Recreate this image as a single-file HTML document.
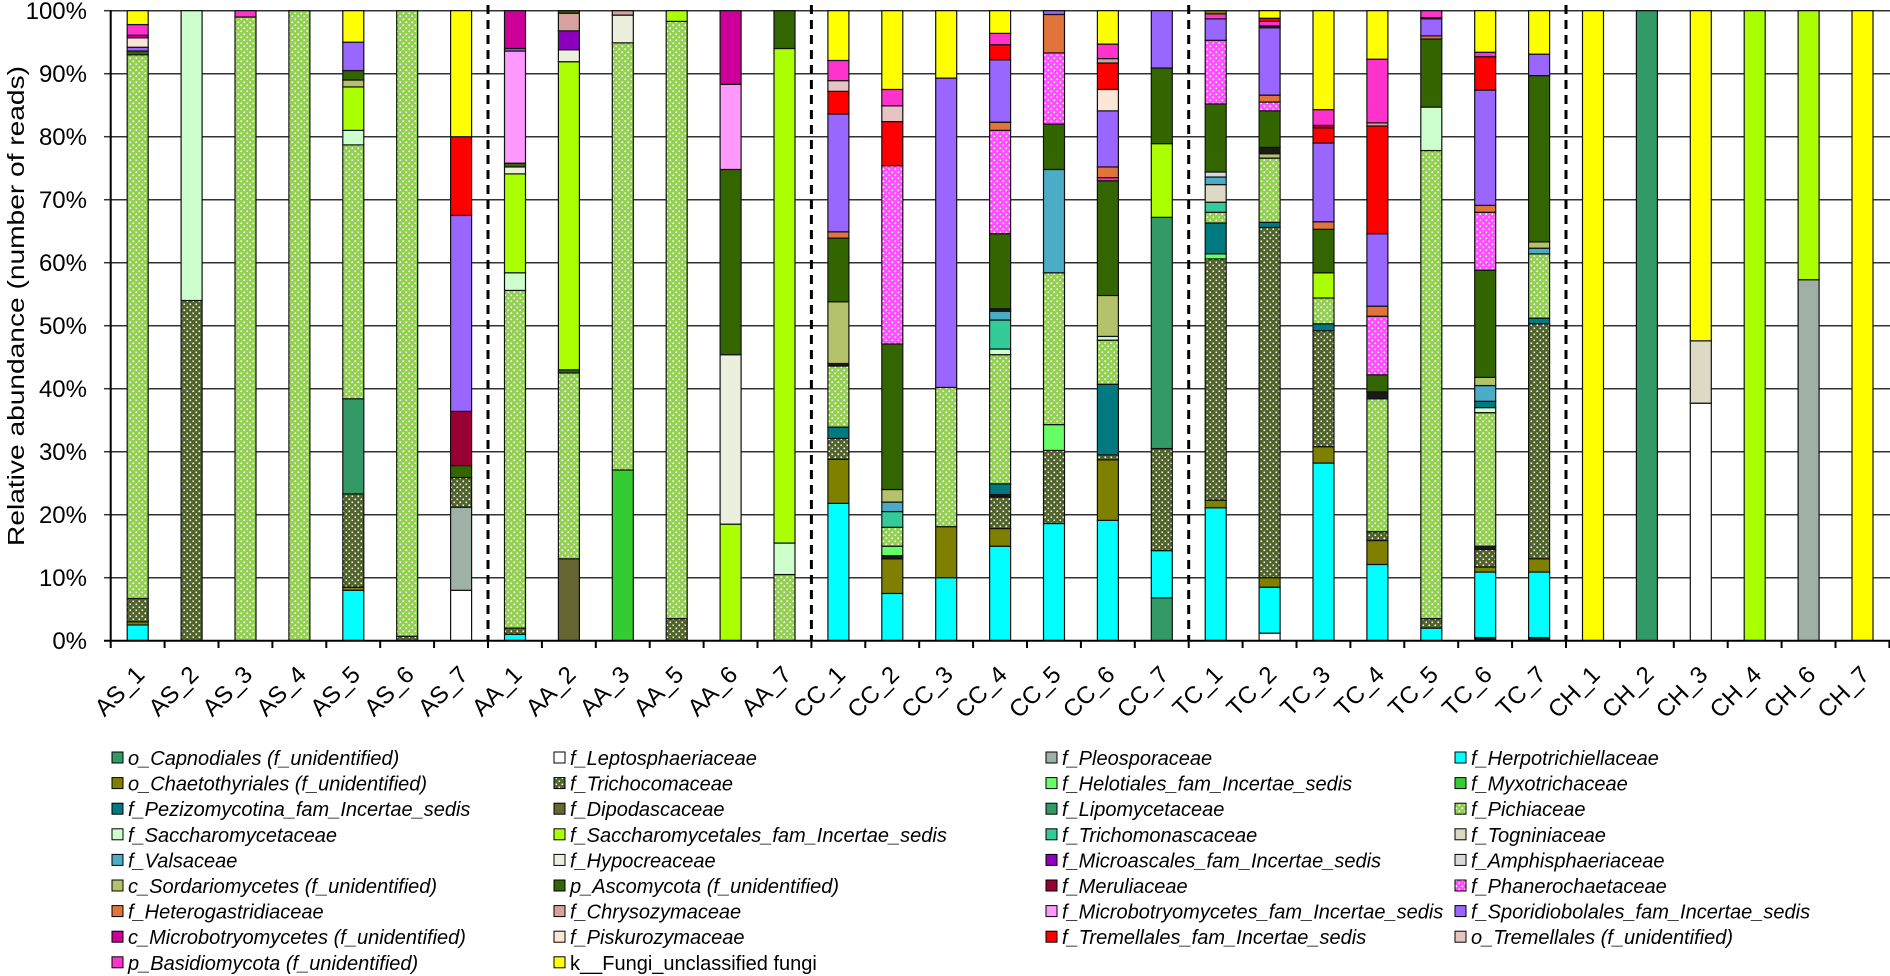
<!DOCTYPE html>
<html><head><meta charset="utf-8"><style>
html,body{margin:0;padding:0;background:#fff;}
svg{display:block;font-family:"Liberation Sans",Arial,sans-serif;}
</style></head><body>
<svg id="s" width="1890" height="976" viewBox="0 0 1890 976" xmlns="http://www.w3.org/2000/svg">
<defs>
<pattern id="p_pic" width="6" height="6" patternUnits="userSpaceOnUse"><rect width="6" height="6" fill="#92D050"/><rect x="0.5" y="0.5" width="1.6" height="1.6" fill="#fff"/><rect x="3.5" y="3.5" width="1.6" height="1.6" fill="#fff"/></pattern>
<pattern id="p_tri" width="6" height="6" patternUnits="userSpaceOnUse"><rect width="6" height="6" fill="#4F6228"/><rect x="0.5" y="0.5" width="1.6" height="1.6" fill="#fff"/><rect x="3.5" y="3.5" width="1.6" height="1.6" fill="#fff"/></pattern>
<pattern id="p_pha" width="6" height="6" patternUnits="userSpaceOnUse"><rect width="6" height="6" fill="#FF4DFF"/><rect x="0.5" y="0.5" width="1.6" height="1.6" fill="#fff"/><rect x="3.5" y="3.5" width="1.6" height="1.6" fill="#fff"/></pattern>
</defs>
<g id="grid" stroke="#333" stroke-width="1.5">
<line x1="110" y1="10.7" x2="1890" y2="10.7"/><line x1="110" y1="73.7" x2="1890" y2="73.7"/><line x1="110" y1="136.7" x2="1890" y2="136.7"/><line x1="110" y1="199.7" x2="1890" y2="199.7"/><line x1="110" y1="262.7" x2="1890" y2="262.7"/><line x1="110" y1="325.7" x2="1890" y2="325.7"/><line x1="110" y1="388.7" x2="1890" y2="388.7"/><line x1="110" y1="451.7" x2="1890" y2="451.7"/><line x1="110" y1="514.7" x2="1890" y2="514.7"/><line x1="110" y1="577.7" x2="1890" y2="577.7"/>
<line x1="104" y1="10.7" x2="110" y2="10.7"/><line x1="104" y1="73.7" x2="110" y2="73.7"/><line x1="104" y1="136.7" x2="110" y2="136.7"/><line x1="104" y1="199.7" x2="110" y2="199.7"/><line x1="104" y1="262.7" x2="110" y2="262.7"/><line x1="104" y1="325.7" x2="110" y2="325.7"/><line x1="104" y1="388.7" x2="110" y2="388.7"/><line x1="104" y1="451.7" x2="110" y2="451.7"/><line x1="104" y1="514.7" x2="110" y2="514.7"/><line x1="104" y1="577.7" x2="110" y2="577.7"/><line x1="104" y1="640.7" x2="110" y2="640.7"/>
</g>
<g id="bars"></g>
<g id="ticks" stroke="#000" stroke-width="2"></g>
<line x1="110.7" y1="10" x2="110.7" y2="641.5" stroke="#000" stroke-width="2"/>
<line x1="104" y1="640.7" x2="1890" y2="640.7" stroke="#000" stroke-width="2"/>
<g stroke="#000" stroke-width="3" stroke-dasharray="9,6">
<line x1="488" y1="5" x2="488" y2="640"/><line x1="811.4" y1="5" x2="811.4" y2="640"/><line x1="1188.7" y1="5" x2="1188.7" y2="640"/><line x1="1566" y1="5" x2="1566" y2="640"/>
</g>
<g font-size="24" text-anchor="end" fill="#000">
<text x="87" y="19">100%</text><text x="87" y="82">90%</text><text x="87" y="145">80%</text><text x="87" y="208">70%</text><text x="87" y="271">60%</text><text x="87" y="334">50%</text><text x="87" y="397">40%</text><text x="87" y="460">30%</text><text x="87" y="523">20%</text><text x="87" y="586">10%</text><text x="87" y="649">0%</text>
</g>
<text transform="translate(24,306) rotate(-90)" font-size="23" text-anchor="middle" textLength="480" lengthAdjust="spacingAndGlyphs">Relative abundance (number of reads)</text>
<g font-size="24" text-anchor="end">
<text transform="translate(146,676) rotate(-45)">AS_1</text>
<text transform="translate(199.9,676) rotate(-45)">AS_2</text>
<text transform="translate(253.8,676) rotate(-45)">AS_3</text>
<text transform="translate(307.7,676) rotate(-45)">AS_4</text>
<text transform="translate(361.6,676) rotate(-45)">AS_5</text>
<text transform="translate(415.5,676) rotate(-45)">AS_6</text>
<text transform="translate(469.4,676) rotate(-45)">AS_7</text>
<text transform="translate(523.3,676) rotate(-45)">AA_1</text>
<text transform="translate(577.2,676) rotate(-45)">AA_2</text>
<text transform="translate(631.1,676) rotate(-45)">AA_3</text>
<text transform="translate(685,676) rotate(-45)">AA_5</text>
<text transform="translate(738.9,676) rotate(-45)">AA_6</text>
<text transform="translate(792.8,676) rotate(-45)">AA_7</text>
<text transform="translate(846.7,676) rotate(-45)">CC_1</text>
<text transform="translate(900.6,676) rotate(-45)">CC_2</text>
<text transform="translate(954.5,676) rotate(-45)">CC_3</text>
<text transform="translate(1008.4,676) rotate(-45)">CC_4</text>
<text transform="translate(1062.3,676) rotate(-45)">CC_5</text>
<text transform="translate(1116.2,676) rotate(-45)">CC_6</text>
<text transform="translate(1170.1,676) rotate(-45)">CC_7</text>
<text transform="translate(1224,676) rotate(-45)">TC_1</text>
<text transform="translate(1277.9,676) rotate(-45)">TC_2</text>
<text transform="translate(1331.8,676) rotate(-45)">TC_3</text>
<text transform="translate(1385.7,676) rotate(-45)">TC_4</text>
<text transform="translate(1439.6,676) rotate(-45)">TC_5</text>
<text transform="translate(1493.5,676) rotate(-45)">TC_6</text>
<text transform="translate(1547.4,676) rotate(-45)">TC_7</text>
<text transform="translate(1601.3,676) rotate(-45)">CH_1</text>
<text transform="translate(1655.2,676) rotate(-45)">CH_2</text>
<text transform="translate(1709.1,676) rotate(-45)">CH_3</text>
<text transform="translate(1763,676) rotate(-45)">CH_4</text>
<text transform="translate(1816.9,676) rotate(-45)">CH_6</text>
<text transform="translate(1870.8,676) rotate(-45)">CH_7</text>
</g>
<g font-size="20" font-style="italic" stroke="none">
<g stroke="#000" stroke-width="1">
<rect x="112" y="752" width="11" height="11" fill="#339966"/><rect x="112" y="777.6" width="11" height="11" fill="#808000"/><rect x="112" y="803.2" width="11" height="11" fill="#007A80"/><rect x="112" y="828.8" width="11" height="11" fill="#CCFFCC"/><rect x="112" y="854.4" width="11" height="11" fill="#4BACC6"/><rect x="112" y="880" width="11" height="11" fill="#B3C26B"/><rect x="112" y="905.6" width="11" height="11" fill="#E0743A"/><rect x="112" y="931.2" width="11" height="11" fill="#CC0099"/><rect x="112" y="956.8" width="11" height="11" fill="#FF33CC"/>
<rect x="554" y="752" width="11" height="11" fill="#FFFFFF"/><rect x="554" y="777.6" width="11" height="11" fill="url(#p_tri)"/><rect x="554" y="803.2" width="11" height="11" fill="#666633"/><rect x="554" y="828.8" width="11" height="11" fill="#AAFF00"/><rect x="554" y="854.4" width="11" height="11" fill="#EBF0DE"/><rect x="554" y="880" width="11" height="11" fill="#336600"/><rect x="554" y="905.6" width="11" height="11" fill="#D9A0A0"/><rect x="554" y="931.2" width="11" height="11" fill="#FBE5D6"/><rect x="554" y="956.8" width="11" height="11" fill="#FFFF00"/>
<rect x="1046" y="752" width="11" height="11" fill="#9FB0A6"/><rect x="1046" y="777.6" width="11" height="11" fill="#66FF66"/><rect x="1046" y="803.2" width="11" height="11" fill="#339966"/><rect x="1046" y="828.8" width="11" height="11" fill="#33CC99"/><rect x="1046" y="854.4" width="11" height="11" fill="#8E00C0"/><rect x="1046" y="880" width="11" height="11" fill="#990033"/><rect x="1046" y="905.6" width="11" height="11" fill="#FF99FF"/><rect x="1046" y="931.2" width="11" height="11" fill="#FF0000"/>
<rect x="1455" y="752" width="11" height="11" fill="#00FFFF"/><rect x="1455" y="777.6" width="11" height="11" fill="#33CC33"/><rect x="1455" y="803.2" width="11" height="11" fill="url(#p_pic)"/><rect x="1455" y="828.8" width="11" height="11" fill="#DDD9C4"/><rect x="1455" y="854.4" width="11" height="11" fill="#D9D9D9"/><rect x="1455" y="880" width="11" height="11" fill="url(#p_pha)"/><rect x="1455" y="905.6" width="11" height="11" fill="#9966FF"/><rect x="1455" y="931.2" width="11" height="11" fill="#E6C4C4"/>
</g>
<text x="128" y="765">o_Capnodiales (f_unidentified)</text>
<text x="128" y="790.6">o_Chaetothyriales (f_unidentified)</text>
<text x="128" y="816.2">f_Pezizomycotina_fam_Incertae_sedis</text>
<text x="128" y="841.8">f_Saccharomycetaceae</text>
<text x="128" y="867.4">f_Valsaceae</text>
<text x="128" y="893">c_Sordariomycetes (f_unidentified)</text>
<text x="128" y="918.6">f_Heterogastridiaceae</text>
<text x="128" y="944.2">c_Microbotryomycetes (f_unidentified)</text>
<text x="128" y="969.8">p_Basidiomycota (f_unidentified)</text>
<text x="570" y="765">f_Leptosphaeriaceae</text>
<text x="570" y="790.6">f_Trichocomaceae</text>
<text x="570" y="816.2">f_Dipodascaceae</text>
<text x="570" y="841.8">f_Saccharomycetales_fam_Incertae_sedis</text>
<text x="570" y="867.4">f_Hypocreaceae</text>
<text x="570" y="893">p_Ascomycota (f_unidentified)</text>
<text x="570" y="918.6">f_Chrysozymaceae</text>
<text x="570" y="944.2">f_Piskurozymaceae</text>
<text x="570" y="969.8" font-style="normal">k__Fungi_unclassified fungi</text>
<text x="1062" y="765">f_Pleosporaceae</text>
<text x="1062" y="790.6">f_Helotiales_fam_Incertae_sedis</text>
<text x="1062" y="816.2">f_Lipomycetaceae</text>
<text x="1062" y="841.8">f_Trichomonascaceae</text>
<text x="1062" y="867.4">f_Microascales_fam_Incertae_sedis</text>
<text x="1062" y="893">f_Meruliaceae</text>
<text x="1062" y="918.6">f_Microbotryomycetes_fam_Incertae_sedis</text>
<text x="1062" y="944.2">f_Tremellales_fam_Incertae_sedis</text>
<text x="1471" y="765">f_Herpotrichiellaceae</text>
<text x="1471" y="790.6">f_Myxotrichaceae</text>
<text x="1471" y="816.2">f_Pichiaceae</text>
<text x="1471" y="841.8">f_Togniniaceae</text>
<text x="1471" y="867.4">f_Amphisphaeriaceae</text>
<text x="1471" y="893">f_Phanerochaetaceae</text>
<text x="1471" y="918.6">f_Sporidiobolales_fam_Incertae_sedis</text>
<text x="1471" y="944.2">o_Tremellales (f_unidentified)</text>
</g>
</svg>
<script>
var C={cap:"#339966",cha:"#808000",pez:"#007A80",sac:"#CCFFCC",val:"#4BACC6",sor:"#B3C26B",het:"#E0743A",cmb:"#CC0099",bas:"#FF33CC",lep:"#FFFFFF",tri:"url(#p_tri)",dip:"#666633",sin:"#AAFF00",hyp:"#EBF0DE",asc:"#336600",chr:"#D9A0A0",pis:"#FBE5D6",ple:"#9FB0A6",hel:"#66FF66",lip:"#339966",trm:"#33CC99",mic:"#8E00C0",mer:"#990033",mbf:"#FF99FF",tre:"#FF0000",her:"#00FFFF",myx:"#33CC33",pic:"url(#p_pic)",tog:"#DDD9C4",amp:"#D9D9D9",pha:"url(#p_pha)",spo:"#9966FF",otr:"#E6C4C4",fun:"#FFFF00",blk:"#1a1a1a"};
var D=[
[["her",2.5],["cha",3],["tri",6.7],["pic",93],["asc",93.6],["spo",94.2],["pis",95.7],["cmb",96.1],["bas",97.8],["fun",100]],
[["tri",54],["sac",100]],
[["pic",99],["bas",100]],
[["pic",100]],
[["her",8],["cha",8.5],["tri",23.3],["cap",38.4],["pic",78.7],["sac",81],["sin",87.9],["sor",89],["asc",90.5],["spo",95],["fun",100]],
[["tri",0.7],["pic",100]],
[["lep",8],["ple",21.2],["tri",25.9],["asc",27.8],["mer",36.4],["spo",67.5],["tre",80],["fun",100]],
[["her",1],["tri",2],["pic",55.6],["sac",58.4],["sin",74.1],["hyp",75.2],["asc",75.8],["mbf",93.6],["spo",94],["cmb",100]],
[["dip",13],["pic",42.5],["asc",43],["sin",91.9],["hyp",93.8],["mic",96.8],["chr",99.6],["asc",100]],
[["myx",27.1],["pic",94.9],["hyp",99.3],["chr",100]],
[["tri",3.5],["pic",98.3],["sin",100]],
[["sin",18.5],["hyp",45.4],["asc",74.8],["mbf",88.3],["cmb",100]],
[["pic",10.5],["sac",15.5],["sin",94],["asc",100]],
[["her",21.8],["cha",28.8],["tri",32.1],["pez",33.9],["pic",43.6],["blk",44],["sor",53.8],["asc",63.9],["het",64.9],["spo",83.6],["tre",87.2],["otr",88.9],["bas",92.1],["fun",100]],
[["her",7.5],["cha",13],["blk",13.5],["hel",15],["pic",18],["trm",20.5],["val",22],["sor",24],["asc",47.1],["pha",75.4],["tre",82.4],["otr",84.9],["bas",87.5],["fun",100]],
[["her",10],["cha",18.1],["pic",40.2],["spo",89.3],["fun",100]],
[["her",15],["cha",17.8],["tri",22.8],["blk",23.2],["pez",24.9],["pic",45.4],["sac",46.3],["trm",50.9],["val",52.3],["blk",52.7],["asc",64.6],["pha",81],["het",82.3],["spo",92.2],["tre",94.6],["bas",96.4],["fun",100]],
[["her",18.6],["tri",30.2],["hel",34.3],["pic",58.4],["val",74.8],["asc",82],["pha",93.3],["het",99.4],["spo",100]],
[["her",19.1],["cha",28.7],["tri",29.5],["pez",40.7],["pic",47.7],["sac",48.3],["sor",54.8],["asc",73],["bas",73.5],["het",75.2],["spo",84.1],["pis",87.5],["tre",91.7],["chr",92.4],["bas",94.7],["fun",100]],
[["cap",6.8],["her",14.3],["tri",30.5],["lip",67.2],["sin",78.9],["asc",90.9],["spo",100]],
[["her",21.1],["cha",22.3],["tri",60.6],["hel",61.4],["pez",66.3],["pic",68],["trm",69.6],["tog",72.4],["val",73.6],["amp",74.4],["asc",85.2],["pha",95.3],["spo",98.7],["bas",99.5],["cha",100]],
[["lep",1.2],["her",8.5],["cha",10],["tri",65.6],["pez",66.4],["pic",76.6],["sor",77.3],["blk",78.3],["asc",84.1],["pha",85.5],["het",86.6],["spo",97.3],["blk",97.6],["bas",98.3],["tre",98.8],["fun",100]],
[["her",28.2],["cha",30.8],["tri",49.2],["pez",50.3],["pic",54.4],["sin",58.4],["asc",65.3],["het",66.5],["spo",79],["tre",81.4],["mer",81.8],["bas",84.3],["fun",100]],
[["her",12.1],["cha",15.9],["tri",17.3],["pic",38.4],["blk",39.5],["asc",42.2],["pha",51.5],["het",53.1],["spo",64.6],["tre",81.7],["chr",82.2],["bas",92.3],["fun",100]],
[["her",2],["tri",3.5],["pic",77.8],["sac",84.7],["asc",95.5],["het",96],["spo",98.7],["blk",98.9],["bas",100]],
[["blk",0.5],["her",10.9],["cha",11.7],["tri",14.5],["blk",15],["pic",36.2],["sac",37],["pez",38],["val",40.5],["sor",41.8],["asc",58.8],["pha",68],["het",69.1],["spo",87.4],["tre",92.7],["bas",93.4],["fun",100]],
[["blk",0.5],["her",10.9],["cha",13],["tri",50.3],["pez",51.2],["pic",61.4],["val",62.3],["sor",63.3],["asc",89.7],["spo",93.1],["fun",100]],
[["fun",100]],
[["cap",100]],
[["lep",37.7],["tog",47.6],["fun",100]],
[["sin",100]],
[["ple",57.3],["sin",100]],
[["fun",100]]
];
var NS="http://www.w3.org/2000/svg",g=document.getElementById("bars"),tk=document.getElementById("ticks");
function Y(p){return 640.7-6.3*p;}
D.forEach(function(b,i){
  var cx=137.7+53.9*i,x=cx-10.5,prev=0;
  b.forEach(function(s){
    var r=document.createElementNS(NS,"rect");
    r.setAttribute("x",x);r.setAttribute("width",21);
    r.setAttribute("y",Y(s[1]));r.setAttribute("height",Math.max(0.1,Y(prev)-Y(s[1])));
    r.setAttribute("fill",C[s[0]]);r.setAttribute("stroke","#111");r.setAttribute("stroke-width","1.2");
    g.appendChild(r);prev=s[1];
  });
});
for(var k=0;k<=33;k++){var l=document.createElementNS(NS,"line");var xx=110.7+53.9*k;
l.setAttribute("x1",xx);l.setAttribute("x2",xx);l.setAttribute("y1",640.7);l.setAttribute("y2",648);tk.appendChild(l);}
</script>
</body></html>
